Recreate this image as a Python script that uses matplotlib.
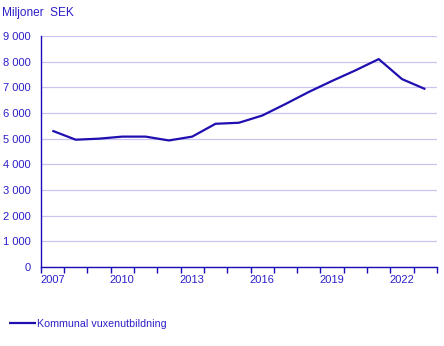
import matplotlib
matplotlib.use("Agg")
import matplotlib.pyplot as plt
from matplotlib.ticker import FixedLocator, FuncFormatter

years = list(range(2007, 2024))
values = [5310, 4960, 5000, 5080, 5080, 4930, 5080, 5580, 5620, 5900,
          6350, 6820, 7250, 7660, 8100, 7320, 6930]
series_name = "Kommunal vuxenutbildning"
y_label = "Miljoner  SEK"
y_ticks = list(range(0, 10000, 1000))
x_label_years = [2007, 2010, 2013, 2016, 2019, 2022]

LINE = "#1f0fb0"
TEXT = "#2d1fc8"
GRID = "#c9c5f0"
AXIS = "#1a0db5"

plt.rcParams['font.family'] = ['Liberation Sans', 'DejaVu Sans']

fig = plt.figure(figsize=(4.44, 3.46), dpi=100)
ax = fig.add_axes([40.7 / 444, 1 - 267 / 346, (437 - 40.7) / 444, (267 - 36) / 346])

line, = ax.plot(years, values, color=LINE, lw=1.6, solid_capstyle='butt')

ax.set_xlim(years[0] - 0.5, years[-1] + 0.5)
ax.set_ylim(0, 9000)
ax.yaxis.set_major_locator(FixedLocator(y_ticks))
ax.yaxis.set_major_formatter(FuncFormatter(lambda v, p: f"{int(v):,}".replace(",", " ")))
ax.set_xticks(x_label_years)
ax.set_xticks([y - 0.5 for y in years] + [years[-1] + 0.5], minor=True)
ax.grid(axis='y', color=GRID, lw=0.9)
ax.set_axisbelow(True)

for s in ['top', 'right']:
    ax.spines[s].set_visible(False)
for s in ['left', 'bottom']:
    ax.spines[s].set_color(AXIS)
    ax.spines[s].set_linewidth(1.0)

ax.tick_params(axis='y', which='major', length=0, labelcolor=TEXT, labelsize=8, pad=7)
ax.tick_params(axis='x', which='major', length=0, labelcolor=TEXT, labelsize=8, pad=6)
ax.tick_params(axis='x', which='minor', length=4, width=1, color=AXIS, direction='out')

fig.text(2 / 444, 1 - 13 / 346, y_label, color=TEXT, fontsize=8.6, va='center', ha='left')

fig.legend([line], [series_name], loc='center left', bbox_to_anchor=(9 / 444, 1 - 324 / 346),
           frameon=False, fontsize=7.7, labelcolor=TEXT, handlelength=2.5, handletextpad=0.15,
           borderaxespad=0, borderpad=0)

fig.savefig("out.png", dpi=100)
